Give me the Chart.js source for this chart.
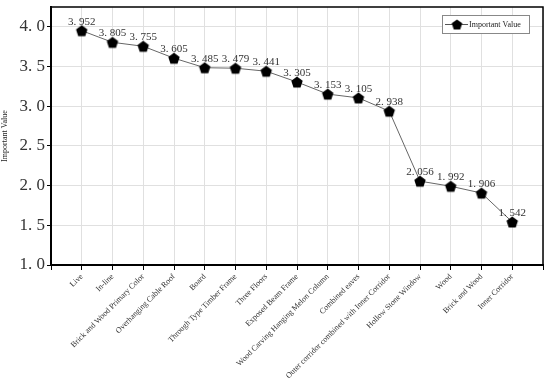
<!DOCTYPE html>
<html>
<head>
<meta charset="utf-8">
<script src="https://cdn.jsdelivr.net/npm/chart.js@4/dist/chart.umd.min.js"></script>
<style>
html,body{margin:0;padding:0;background:#fff;}
#wrap{width:550px;height:384px;position:relative;}
</style>
</head>
<body>
<div id="wrap"><canvas id="c" width="550" height="384"></canvas></div>
<script>
const categories = ["Live","In-line","Brick and Wood Primary Color","Overhanging Cable Roof","Board","Through Type Timber Frame","Three Floors","Exposed Beam Frame","Wood Carving Hanging Melon Column","Combined eaves","Outer corridor combined with Inner Corridor","Hollow Stone Window","Wood","Brick and Wood","Inner Corridor"];
const importantValues = [3.952,3.805,3.755,3.605,3.485,3.479,3.441,3.305,3.153,3.105,2.938,2.056,1.992,1.906,1.542];
const yTicks = [1.0,1.5,2.0,2.5,3.0,3.5,4.0];
const seriesName = "Important Value";
const yTitle = "Important Value";

function fmt(v, d){ const s = v.toFixed(d); return s.replace('.', '. '); }

function makePentagon(r){
  const size = Math.ceil(2*r+2);
  const cv = document.createElement('canvas');
  cv.width = size; cv.height = size;
  const g = cv.getContext('2d');
  const cx = size/2, cy = size/2 + r*0.1;
  g.beginPath();
  for(let i=0;i<5;i++){
    const a = -Math.PI/2 + i*2*Math.PI/5;
    const px = cx + r*Math.cos(a), py = cy + r*Math.sin(a);
    if(i===0) g.moveTo(px,py); else g.lineTo(px,py);
  }
  g.closePath();
  g.fillStyle = '#000';
  g.fill();
  return cv;
}
const pent = makePentagon(6);
const pentSmall = makePentagon(5.5);

const borderPlugin = {
  id:'borderPlugin',
  afterDraw(chart){
    const {ctx, chartArea:a} = chart;
    ctx.save();
    ctx.strokeStyle = '#000';
    ctx.lineWidth = 1.5;
    ctx.beginPath();
    ctx.moveTo(a.left, a.top); ctx.lineTo(a.right, a.top); ctx.lineTo(a.right, a.bottom);
    ctx.stroke();
    // legend
    const lx = 442, ly = 15, lw = 87, lh = 18;
    ctx.fillStyle = '#fff';
    ctx.fillRect(lx, ly, lw, lh);
    ctx.strokeStyle = '#888';
    ctx.lineWidth = 1;
    ctx.strokeRect(lx+0.5, ly+0.5, lw, lh);
    const my = ly + lh/2 + 0.5;
    ctx.strokeStyle = '#555';
    ctx.beginPath(); ctx.moveTo(lx+3, my); ctx.lineTo(lx+26, my); ctx.stroke();
    ctx.drawImage(pentSmall, lx+15 - pentSmall.width/2, my - pentSmall.height/2);
    ctx.fillStyle = '#222';
    ctx.font = '8px "Liberation Serif"';
    ctx.textAlign = 'left'; ctx.textBaseline = 'middle';
    ctx.fillText(seriesName, lx+27, my);
    ctx.restore();
  },
  afterDatasetsDraw(chart){
    const {ctx} = chart;
    const meta = chart.getDatasetMeta(0);
    ctx.save();
    ctx.fillStyle = '#333';
    ctx.font = '11px "Liberation Serif"';
    ctx.textAlign = 'center'; ctx.textBaseline = 'alphabetic';
    meta.data.forEach((pt, i) => {
      ctx.fillText(fmt(importantValues[i], 3), pt.x, pt.y - 6);
    });
    ctx.restore();
  }
};

new Chart(document.getElementById('c'), {
  type:'line',
  data:{
    datasets:[{
      label: seriesName,
      data: importantValues.map((v,i)=>({x:i, y:v})),
      borderColor:'#666',
      borderWidth:1,
      pointStyle: pent,
      pointRadius:6,
      pointHoverRadius:6,
      fill:false,
      tension:0
    }]
  },
  options:{
    responsive:false,
    animation:false,
    layout:{padding:{left:0, right:6, top:6, bottom:0}},
    plugins:{legend:{display:false}, tooltip:{enabled:false}},
    scales:{
      x:{
        type:'linear', min:-1, max:15,
        afterFit(s){ s.height = 119; s.paddingLeft = 0; s.paddingRight = 0; },
        afterBuildTicks(s){ s.ticks = []; for(let i=-1;i<=15;i++) s.ticks.push({value:i}); },
        grid:{color:'#e0e0e0', lineWidth:1, tickColor:'#000', tickLength:5, drawTicks:true},
        border:{color:'#000', width:2},
        ticks:{
          autoSkip:false, minRotation:45, maxRotation:45, padding:2,
          color:'#333', font:{family:'"Liberation Serif"', size:8},
          callback(v){ return (v>=0 && v<categories.length) ? categories[v] : ''; }
        }
      },
      y:{
        min:1.0, max:4.25,
        afterFit(s){ s.width = 51; s.paddingTop = 0; s.paddingBottom = 0; },
        afterBuildTicks(s){ s.ticks = yTicks.map(v=>({value:v})); },
        grid:{color:'#e0e0e0', lineWidth:1, tickColor:'#000', tickLength:4},
        border:{color:'#000', width:2},
        title:{display:true, text:yTitle, color:'#222', font:{family:'"Liberation Serif"', size:8}, padding:{top:0,bottom:0}},
        ticks:{
          color:'#333', padding:2,
          font:{family:'"Liberation Serif"', size:17},
          callback(v){ return fmt(v,1); }
        }
      }
    }
  },
  plugins:[borderPlugin]
});
</script>
</body>
</html>
